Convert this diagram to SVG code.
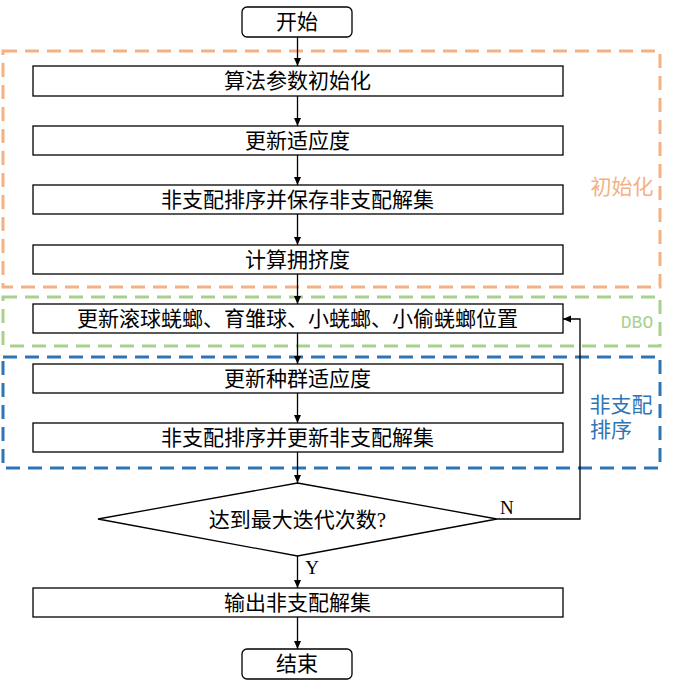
<svg xmlns="http://www.w3.org/2000/svg" width="681" height="689" viewBox="0 0 681 689">
<defs>
<marker id="ah" markerWidth="10" markerHeight="10" refX="9" refY="5" orient="auto" markerUnits="userSpaceOnUse">
<path d="M1,1.5 L9,5 L1,8.5 Z" fill="#000"/>
</marker>
<style>
.box{fill:#fff;stroke:#000;stroke-width:1.3}
.t{font-family:"Liberation Serif","Noto Sans CJK SC",serif;font-size:21px;fill:#000;text-anchor:middle;dominant-baseline:central}
.c{fill:none;stroke:#000;stroke-width:1.3}
.grp{fill:none;stroke-width:3;stroke-dasharray:14 8}
.lbl{font-family:"Liberation Serif","Noto Sans CJK SC",serif;font-size:21px}
</style>
</defs>
<rect width="681" height="689" fill="#fff"/>
<g id="groups">
<rect x="3" y="51" width="657" height="236" class="grp" stroke="#F4B183"/>
<rect x="3" y="297" width="657" height="49" class="grp" stroke="#A9D18E"/>
<rect x="3" y="357" width="657" height="111" class="grp" stroke="#2E75B6"/>
<text x="622" y="187" class="lbl" fill="#F4B183" text-anchor="middle" dominant-baseline="central">初始化</text>
<text x="637" y="323" font-family="'Liberation Mono','DejaVu Sans Mono',monospace" font-size="18" fill="#A9D18E" text-anchor="middle" dominant-baseline="central">DBO</text>
<text x="621" y="405" class="lbl" fill="#2E75B6" text-anchor="middle" dominant-baseline="central">非支配</text>
<text x="611" y="430" class="lbl" fill="#2E75B6" text-anchor="middle" dominant-baseline="central">排序</text>
</g>
<g id="connectors">
<line x1="297.5" y1="37" x2="297.5" y2="66" class="c" marker-end="url(#ah)"/>
<line x1="297.5" y1="96" x2="297.5" y2="126" class="c" marker-end="url(#ah)"/>
<line x1="297.5" y1="155" x2="297.5" y2="185" class="c" marker-end="url(#ah)"/>
<line x1="297.5" y1="214" x2="297.5" y2="245" class="c" marker-end="url(#ah)"/>
<line x1="297.5" y1="274" x2="297.5" y2="304" class="c" marker-end="url(#ah)"/>
<line x1="297.5" y1="333" x2="297.5" y2="364" class="c" marker-end="url(#ah)"/>
<line x1="297.5" y1="393" x2="297.5" y2="423" class="c" marker-end="url(#ah)"/>
<line x1="297.5" y1="452" x2="297.5" y2="483" class="c" marker-end="url(#ah)"/>
<line x1="297.5" y1="556" x2="297.5" y2="588" class="c" marker-end="url(#ah)"/>
<line x1="297.5" y1="617" x2="297.5" y2="649" class="c" marker-end="url(#ah)"/>
<polyline points="497,519 580,519 580,319 563,319" class="c" marker-end="url(#ah)"/>
<text x="500" y="507" font-family="'Liberation Serif',serif" font-size="19" dominant-baseline="central">N</text>
<text x="312" y="567" font-family="'Liberation Serif',serif" font-size="19" text-anchor="middle" dominant-baseline="central">Y</text>
</g>
<g id="start"><rect x="242" y="7" width="110" height="30" rx="5" class="box"/><text x="297" y="22" class="t">开始</text></g>
<g id="init"><rect x="33" y="66" width="530" height="30" class="box"/><text x="297.5" y="81" class="t">算法参数初始化</text></g>
<g id="fitness"><rect x="33" y="126" width="530" height="29" class="box"/><text x="297.5" y="140.5" class="t">更新适应度</text></g>
<g id="sort1"><rect x="33" y="185" width="530" height="29" class="box"/><text x="297.5" y="199.5" class="t">非支配排序并保存非支配解集</text></g>
<g id="crowd"><rect x="33" y="245" width="530" height="29" class="box"/><text x="297.5" y="259.5" class="t">计算拥挤度</text></g>
<g id="dbo"><rect x="33" y="304" width="530" height="29" class="box"/><text x="297.5" y="318.5" class="t">更新滚球蜣螂、育雏球、小蜣螂、小偷蜣螂位置</text></g>
<g id="popfit"><rect x="33" y="364" width="530" height="29" class="box"/><text x="297.5" y="378.5" class="t">更新种群适应度</text></g>
<g id="sort2"><rect x="33" y="423" width="530" height="29" class="box"/><text x="297.5" y="437.5" class="t">非支配排序并更新非支配解集</text></g>
<g id="decision"><polygon points="297.5,483 497,519 297.5,556 98,519" class="box"/><text x="297.5" y="520" class="t">达到最大迭代次数?</text></g>
<g id="output"><rect x="33" y="588" width="530" height="29" class="box"/><text x="297.5" y="602.5" class="t">输出非支配解集</text></g>
<g id="end"><rect x="242" y="649" width="110" height="30" rx="5" class="box"/><text x="297" y="664" class="t">结束</text></g>
</svg>
